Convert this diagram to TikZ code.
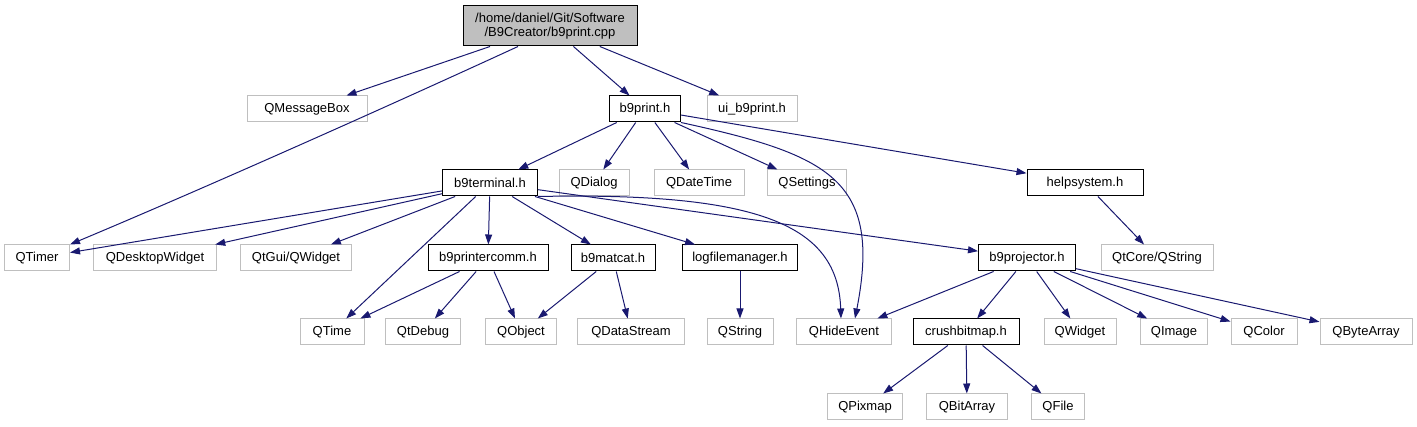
\documentclass[tikz,border=0pt]{standalone}
\usepackage{fontspec}
\setmainfont{Liberation Sans}
\usepackage{tikz}
\usetikzlibrary{arrows.meta,positioning}
\definecolor{edgeblue}{HTML}{191970}
\definecolor{extgray}{HTML}{BFBFBF}

\begin{document}
\begin{tikzpicture}[
  x=1pt, y=-1pt,
  hdr/.style={draw=black, line width=1pt, fill=white, minimum height=26pt,
              inner sep=0pt, font=\fontsize{13}{14}\selectfont, minimum width=#1},
  ext/.style={hdr=#1, draw=extgray},
  root/.style={hdr=#1, fill=extgray, minimum height=40pt, align=center},
  arrow/.style={-{Triangle[length=10pt,width=7pt]}, draw=edgeblue, line width=1pt},
]
  \useasboundingbox (0,0) rectangle (1417,427);

  \node[root=174pt] (main) at (550,26) {/home/daniel/Git/Software\\/B9Creator/b9print.cpp};

  \node[ext=120pt] (qmessagebox) at (307,109) {QMessageBox};
  \node[hdr=71pt] (b9print) at (645,109) {b9print.h};
  \node[ext=90pt] (uib9print) at (752,109) {ui\_b9print.h};

  \node[hdr=95pt] (b9terminal) at (490,183) {b9terminal.h};
  \node[ext=70pt] (qdialog) at (594,183) {QDialog};
  \node[ext=90pt] (qdatetime) at (699,183) {QDateTime};
  \node[ext=79pt] (qsettings) at (807,183) {QSettings};
  \node[hdr=116pt] (helpsystem) at (1085,183) {helpsystem.h};

  \node[ext=65pt] (qtimer) at (37,258) {QTimer};
  \node[ext=123pt] (qdesktopwidget) at (155,258) {QDesktopWidget};
  \node[ext=111pt] (qtguiqwidget) at (296,258) {QtGui/QWidget};
  \node[hdr=120pt] (b9printercomm) at (488,258) {b9printercomm.h};
  \node[hdr=84pt] (b9matcat) at (613,258) {b9matcat.h};
  \node[hdr=115pt] (logfilemanager) at (740,258) {logfilemanager.h};
  \node[hdr=97pt] (b9projector) at (1027,258) {b9projector.h};
  \node[ext=112pt] (qtcoreqstring) at (1157,258) {QtCore/QString};

  \node[ext=64pt] (qtime) at (332,332) {QTime};
  \node[ext=75pt] (qtdebug) at (423,332) {QtDebug};
  \node[ext=71pt] (qobject) at (521,332) {QObject};
  \node[ext=107pt] (qdatastream) at (631,332) {QDataStream};
  \node[ext=66pt] (qstring) at (740,332) {QString};
  \node[ext=95pt] (qhideevent) at (844,332) {QHideEvent};
  \node[hdr=106pt] (crushbitmap) at (966,332) {crushbitmap.h};
  \node[ext=72pt] (qwidget) at (1080,332) {QWidget};
  \node[ext=67pt] (qimage) at (1174,332) {QImage};
  \node[ext=66pt] (qcolor) at (1264,332) {QColor};
  \node[ext=92pt] (qbytearray) at (1366,332) {QByteArray};

  \node[ext=75pt] (qpixmap) at (865,407) {QPixmap};
  \node[ext=81pt] (qbitarray) at (967,407) {QBitArray};
  \node[ext=53pt] (qfile) at (1058,407) {QFile};

  \draw[arrow] (main) -- (qmessagebox);
  \draw[arrow] ([xshift=-32pt]main.south) .. controls (380,110) and (200,190) .. (qtimer.north east);
  \draw[arrow] (main) -- (b9print);
  \draw[arrow] (main) -- (uib9print);

  \draw[arrow] (b9print) -- (b9terminal);
  \draw[arrow] (b9print) -- (qdialog);
  \draw[arrow] (b9print) -- (qdatetime);
  \draw[arrow] (b9print) -- (qsettings);
  \draw[arrow] (b9print) -- (helpsystem);
  \draw[arrow] (b9print.south east) .. controls (830,155) and (882,180) .. ([xshift=11pt]qhideevent.north);

  \draw[arrow] (helpsystem) -- (qtcoreqstring);

  \draw[arrow] (b9terminal) -- (qtimer);
  \draw[arrow] (b9terminal) -- (qdesktopwidget);
  \draw[arrow] (b9terminal) -- (qtguiqwidget);
  \draw[arrow] (b9terminal) -- (qtime);
  \draw[arrow] (b9terminal) -- (b9printercomm);
  \draw[arrow] (b9terminal) -- (b9matcat);
  \draw[arrow] (b9terminal) -- (logfilemanager);
  \draw[arrow] (b9terminal.south east) .. controls (760,192) and (838,225) .. ([xshift=-3pt]qhideevent.north);
  \draw[arrow] (b9terminal) -- (b9projector);

  \draw[arrow] (b9printercomm) -- (qtime);
  \draw[arrow] (b9printercomm) -- (qtdebug);
  \draw[arrow] (b9printercomm) -- (qobject);
  \draw[arrow] (b9matcat) -- (qobject);
  \draw[arrow] (b9matcat) -- (qdatastream);
  \draw[arrow] (logfilemanager) -- (qstring);

  \draw[arrow] (b9projector) -- (qhideevent);
  \draw[arrow] (b9projector) -- (crushbitmap);
  \draw[arrow] (b9projector) -- (qwidget);
  \draw[arrow] (b9projector) -- (qimage);
  \draw[arrow] (b9projector) -- (qcolor);
  \draw[arrow] (b9projector) -- (qbytearray);

  \draw[arrow] (crushbitmap) -- (qpixmap);
  \draw[arrow] (crushbitmap) -- (qbitarray);
  \draw[arrow] (crushbitmap) -- (qfile);
\end{tikzpicture}
\end{document}
